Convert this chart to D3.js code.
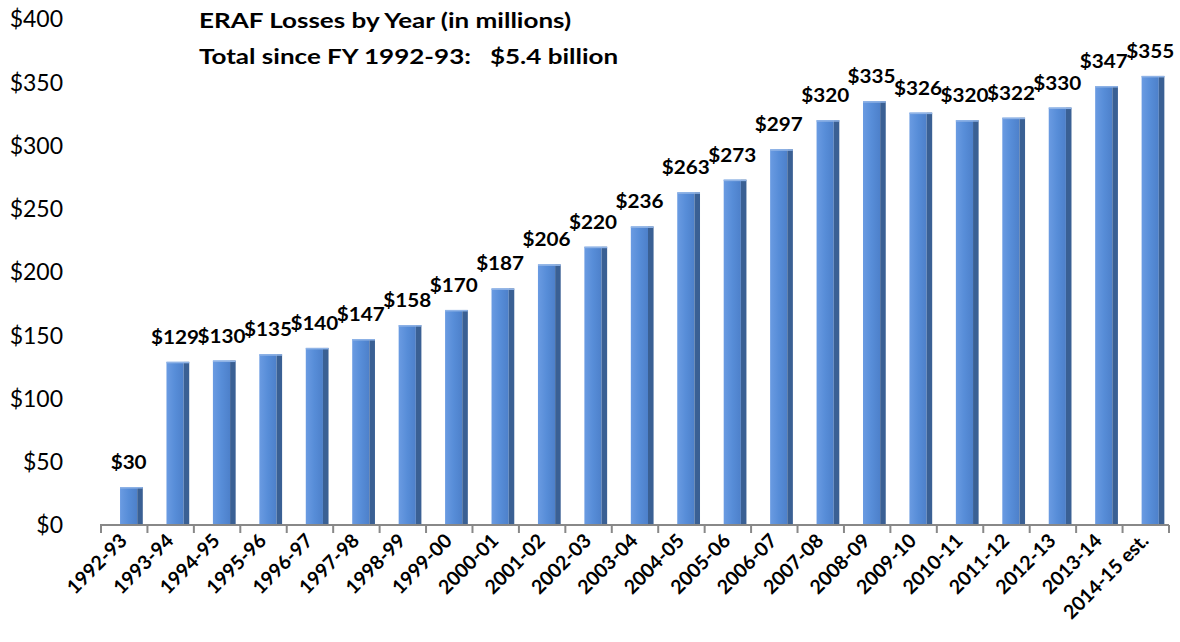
<!DOCTYPE html>
<html>
<head>
<meta charset="utf-8">
<script src="https://cdn.jsdelivr.net/npm/d3@7"></script>
<style>
  html, body { margin: 0; padding: 0; background: #fff; }
  svg { display: block; }
</style>
</head>
<body>
<svg id="chart" width="1180" height="642"></svg>
<script>
// ERAF losses by fiscal year, in millions of dollars
const fiscalYears = [
  "1992-93", "1993-94", "1994-95", "1995-96", "1996-97", "1997-98", "1998-99",
  "1999-00", "2000-01", "2001-02", "2002-03", "2003-04", "2004-05", "2005-06",
  "2006-07", "2007-08", "2008-09", "2009-10", "2010-11", "2011-12", "2012-13",
  "2013-14", "2014-15 est."
];
const losses = [30, 129, 130, 135, 140, 147, 158, 170, 187, 206, 220, 236,
                263, 273, 297, 320, 335, 326, 320, 322, 330, 347, 355];
const yTicks = [0, 50, 100, 150, 200, 250, 300, 350, 400];
const titleLines = ["ERAF Losses by Year (in millions)",
                    "Total since FY 1992-93:   $5.4 billion"];

const svg = d3.select("#chart");
const font = "Lato, 'Open Sans', sans-serif";
const stretch = 1.15; // horizontal widening applied to value labels

const x = d3.scaleBand().domain(fiscalYears).range([101, 1169]).padding(0);
const y = d3.scaleLinear().domain([0, 400]).range([525, 19]);
const step = x.step();
const frontW = step * 0.37;
const sideW = step * 0.12;
const barOff = step * 0.41;

// Gradient for the front face of each column
const defs = svg.append("defs");
const g1 = defs.append("linearGradient").attr("id", "front").attr("x1", 0).attr("x2", 1);
g1.append("stop").attr("offset", 0).attr("stop-color", "#6a9be2");
g1.append("stop").attr("offset", 0.5).attr("stop-color", "#578dd8");
g1.append("stop").attr("offset", 1).attr("stop-color", "#4d80ca");

// Y-axis labels (no axis line)
svg.append("g").selectAll("text").data(yTicks).join("text")
  .attr("x", 63).attr("y", d => y(d))
  .attr("dy", "0.36em")
  .attr("text-anchor", "end")
  .attr("font-family", font).attr("font-size", 23)
  .attr("fill", "#000")
  .text(d => "$" + d);

// Columns: light front face plus darker side face
const bars = svg.append("g").selectAll("g").data(fiscalYears).join("g");
bars.append("rect")
  .attr("x", d => x(d) + barOff)
  .attr("y", (d, i) => y(losses[i]))
  .attr("width", frontW)
  .attr("height", (d, i) => y(0) - y(losses[i]))
  .attr("fill", "url(#front)");
bars.append("rect")
  .attr("x", d => x(d) + barOff + frontW)
  .attr("y", (d, i) => y(losses[i]))
  .attr("width", sideW)
  .attr("height", (d, i) => y(0) - y(losses[i]))
  .attr("fill", "#3a6094");
bars.append("rect")
  .attr("x", d => x(d) + barOff)
  .attr("y", (d, i) => y(losses[i]))
  .attr("width", frontW + sideW)
  .attr("height", 1.5)
  .attr("fill", "#8fb3e6");

// Category axis line and tick marks at band boundaries
const axisG = svg.append("g");
axisG.append("line")
  .attr("x1", 100).attr("x2", x.range()[1])
  .attr("y1", y(0)).attr("y2", y(0))
  .attr("stroke", "#888").attr("stroke-width", 2);
const bounds = fiscalYears.map(d => x(d)).concat([x.range()[1]]);
axisG.selectAll("line.tick").data(bounds).join("line")
  .attr("class", "tick")
  .attr("x1", d => d).attr("x2", d => d)
  .attr("y1", y(0)).attr("y2", y(0) + 8)
  .attr("stroke", "#888").attr("stroke-width", 2);

// Rotated category labels
svg.append("g").selectAll("text").data(fiscalYears).join("text")
  .attr("transform", d => `translate(${x(d) + step / 2 + 4},${y(0) + 17}) rotate(-45)`)
  .attr("text-anchor", "end")
  .attr("font-family", font).attr("font-weight", 700).attr("font-size", 19.5)
  .attr("fill", "#000")
  .text(d => d);

// Value labels above each column
svg.append("g").selectAll("text").data(fiscalYears).join("text")
  .attr("transform", (d, i) =>
    `translate(${x(d) + barOff + frontW / 2},${y(losses[i]) - 18}) scale(${stretch},1)`)
  .attr("text-anchor", "middle")
  .attr("font-family", font).attr("font-weight", 700).attr("font-size", 18)
  .attr("fill", "#000")
  .text((d, i) => "$" + losses[i]);

// Title block
svg.append("g").selectAll("text").data(titleLines).join("text")
  .attr("transform", (d, i) => `translate(199,${28 + i * 36}) scale(1.24,1)`)
  .attr("font-family", font).attr("font-weight", 700).attr("font-size", 21)
  .attr("fill", "#000")
  .attr("xml:space", "preserve")
  .style("white-space", "pre")
  .text(d => d);
</script>
</body>
</html>
